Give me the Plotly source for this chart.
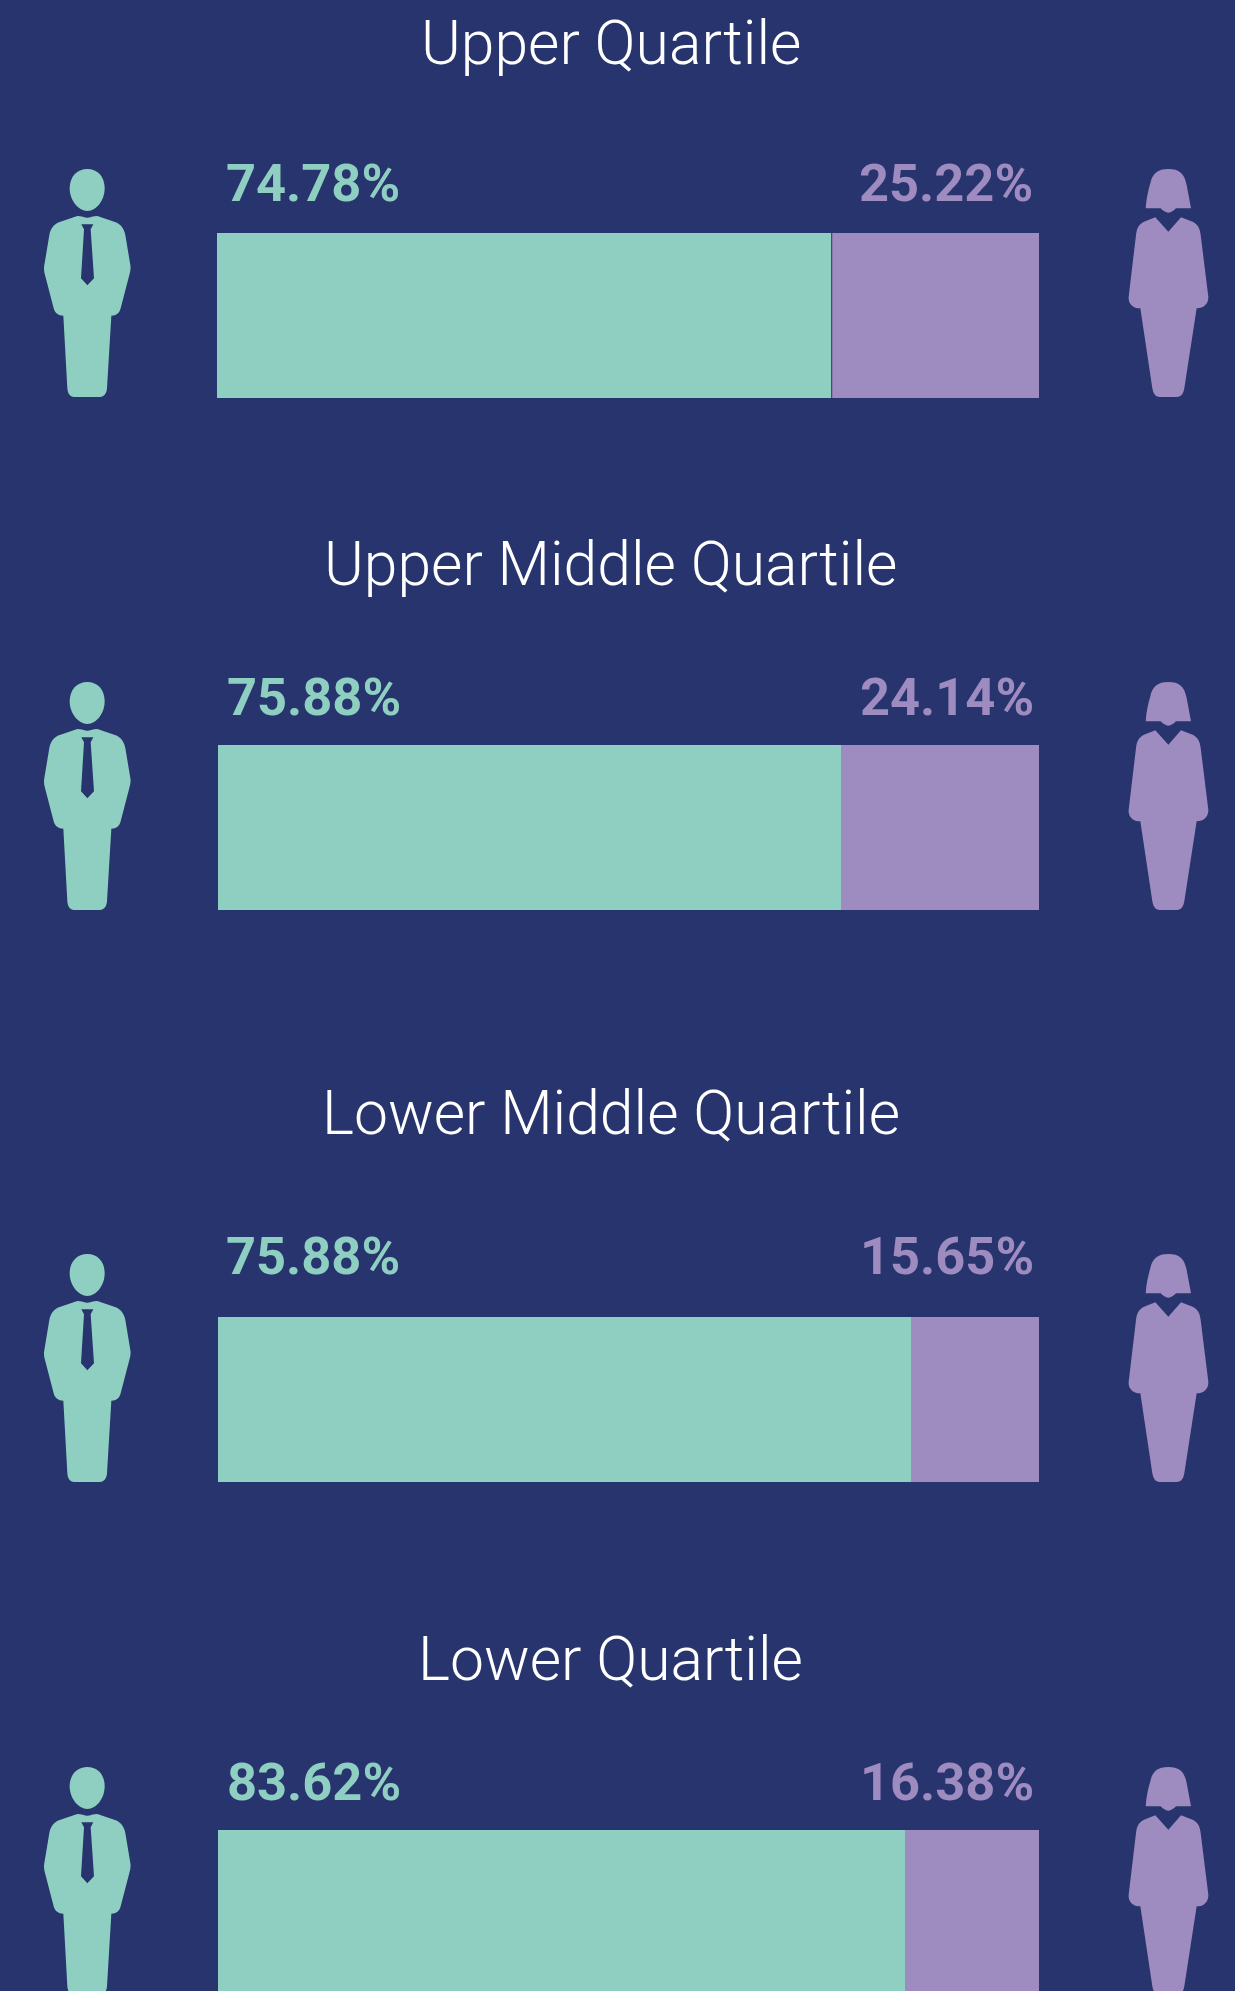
import re
import plotly.graph_objects as go

# ---- data ----
categories = ["Upper Quartile", "Upper Middle Quartile", "Lower Middle Quartile", "Lower Quartile"]
men_values = [74.78, 75.88, 84.35, 83.62]
women_values = [25.22, 24.14, 15.65, 16.38]
men_labels = ["74.78%", "75.88%", "75.88%", "83.62%"]
women_labels = ["25.22%", "24.14%", "15.65%", "16.38%"]

# ---- layout constants (pixels) ----
W, H = 1235, 1991
BG, TEAL, PURPLE = "#27346D", "#8FCFC2", "#9E8BBF"
bar_left = [217, 218, 218, 218]
bar_right = [1039, 1039, 1039, 1039]
bar_top = [233, 745, 1317, 1830]
BAR_H = 165
title_cy = [44, 565, 1113, 1659]
label_base = [203, 717, 1276, 1802]
icon_dy = [0, 513, 1085, 1598]
man_lab_x = [224, 225, 224, 225]
wom_lab_x = [1035, 1036, 1036, 1036]

# icon outlines in a 3x drawing grid; origin offsets below
MAN_ORIGIN, WOMAN_ORIGIN = (0, 140), (801, 140)
MAN_HEAD = "M262 87 C293 87 314 110 314 145 C314 180 290 213 262 213 C234 213 209 180 209 145 C209 110 231 87 262 87 Z"
MAN_BODY = ("M262 233 C270 233 280 228 292 228 L345 246 C362 252 372 265 376 285 L391 375 C393 385 391 395 388 405 "
            "L362 505 C358 520 350 527 334 527 L321 745 C320 760 312 771 300 771 L222 771 C210 771 203 760 202 745 "
            "L190 527 C175 527 165 520 161 505 L135 405 C132 395 131 385 133 375 L148 285 C152 265 162 252 179 246 "
            "L232 228 C244 228 254 233 262 233 Z")
MAN_TIE = "M244 253 L280 253 L272 268 L282 415 L262 436 L243 415 L252 268 Z"
WOMAN_HAIR = ("M1102 87 C1135 87 1150 100 1157 135 L1170 205 L1125 205 C1118 212 1110 218 1102 218 "
              "C1094 218 1086 212 1079 205 L1034 205 C1036 175 1042 150 1048 130 C1054 100 1070 87 1102 87 Z")
WOMAN_BODY = ("M1102 275 L1140 232 L1175 245 C1190 252 1197 265 1199 285 L1222 470 C1223 490 1210 505 1187 505 "
              "L1150 745 C1147 762 1140 771 1128 771 L1076 771 C1064 771 1057 762 1054 745 L1018 505 "
              "C995 505 981 490 983 470 L1005 285 C1007 265 1014 252 1029 245 L1063 232 Z")


def to_paper(path, origin, dy):
    def rep(m):
        x = origin[0] + float(m.group(1)) / 3
        y = origin[1] + float(m.group(2)) / 3 + dy
        return f"{x / W:.5f} {1 - y / H:.5f}"
    return re.sub(r"(\d+(?:\.\d+)?) (\d+(?:\.\d+)?)", rep, path)


fig = go.Figure()
layout_axes = {}
annotations = []
shapes = []

for i, cat in enumerate(categories):
    suffix = "" if i == 0 else str(i + 1)
    total = men_values[i] + women_values[i]
    fig.add_bar(y=[cat], x=[men_values[i]], orientation="h", marker=dict(color=TEAL, line_width=0),
                xaxis=f"x{suffix}", yaxis=f"y{suffix}", name="Men", hoverinfo="skip", showlegend=False)
    fig.add_bar(y=[cat], x=[women_values[i]], orientation="h", marker=dict(color=PURPLE, line_width=0),
                xaxis=f"x{suffix}", yaxis=f"y{suffix}", name="Women", hoverinfo="skip", showlegend=False)
    bottom = min(bar_top[i] + BAR_H, H)
    hidden_frac = (bar_top[i] + BAR_H - bottom) / BAR_H
    layout_axes[f"xaxis{suffix}"] = dict(domain=[bar_left[i] / W, bar_right[i] / W], range=[0, total],
                                         visible=False, anchor=f"y{suffix}", fixedrange=True)
    layout_axes[f"yaxis{suffix}"] = dict(domain=[1 - bottom / H, 1 - bar_top[i] / H],
                                         range=[-0.5 + hidden_frac, 0.5], visible=False,
                                         anchor=f"x{suffix}", type="category", fixedrange=True)

    annotations.append(dict(text=cat, x=610.5 / W, y=1 - title_cy[i] / H, xref="paper", yref="paper",
                            xanchor="center", yanchor="middle", showarrow=False,
                            font=dict(family="Roboto", size=60.6, color="white", weight=300)))
    annotations.append(dict(text=men_labels[i], x=man_lab_x[i] / W, y=1 - label_base[i] / H, xref="paper", yref="paper",
                            xanchor="left", yanchor="bottom", yshift=-13, showarrow=False,
                            font=dict(family="Roboto", size=52.4, color=TEAL, weight=700)))
    annotations.append(dict(text=women_labels[i], x=wom_lab_x[i] / W, y=1 - label_base[i] / H, xref="paper", yref="paper",
                            xanchor="right", yanchor="bottom", yshift=-13, showarrow=False,
                            font=dict(family="Roboto", size=52.4, color=PURPLE, weight=700)))

    for p, o, c in [(MAN_HEAD, MAN_ORIGIN, TEAL), (MAN_BODY, MAN_ORIGIN, TEAL), (MAN_TIE, MAN_ORIGIN, BG),
                    (WOMAN_HAIR, WOMAN_ORIGIN, PURPLE), (WOMAN_BODY, WOMAN_ORIGIN, PURPLE)]:
        shapes.append(dict(type="path", xref="paper", yref="paper", path=to_paper(p, o, icon_dy[i]),
                           fillcolor=c, line_width=0, layer="above"))

# hairline between the two segments of the first bar
shapes.append(dict(type="line", xref="x", yref="y domain", x0=men_values[0], x1=men_values[0], y0=0, y1=1,
                   line=dict(color=BG, width=1), layer="above"))

fig.update_layout(width=W, height=H, margin=dict(l=0, r=0, t=0, b=0), paper_bgcolor=BG, plot_bgcolor=BG,
                  barmode="stack", bargap=0, showlegend=False, annotations=annotations, shapes=shapes,
                  **layout_axes)

fig.write_html("out.html", config=dict(displayModeBar=False),
               post_script="document.body.style.margin='0';document.body.style.background='#27346D';document.body.style.overflow='hidden';")
